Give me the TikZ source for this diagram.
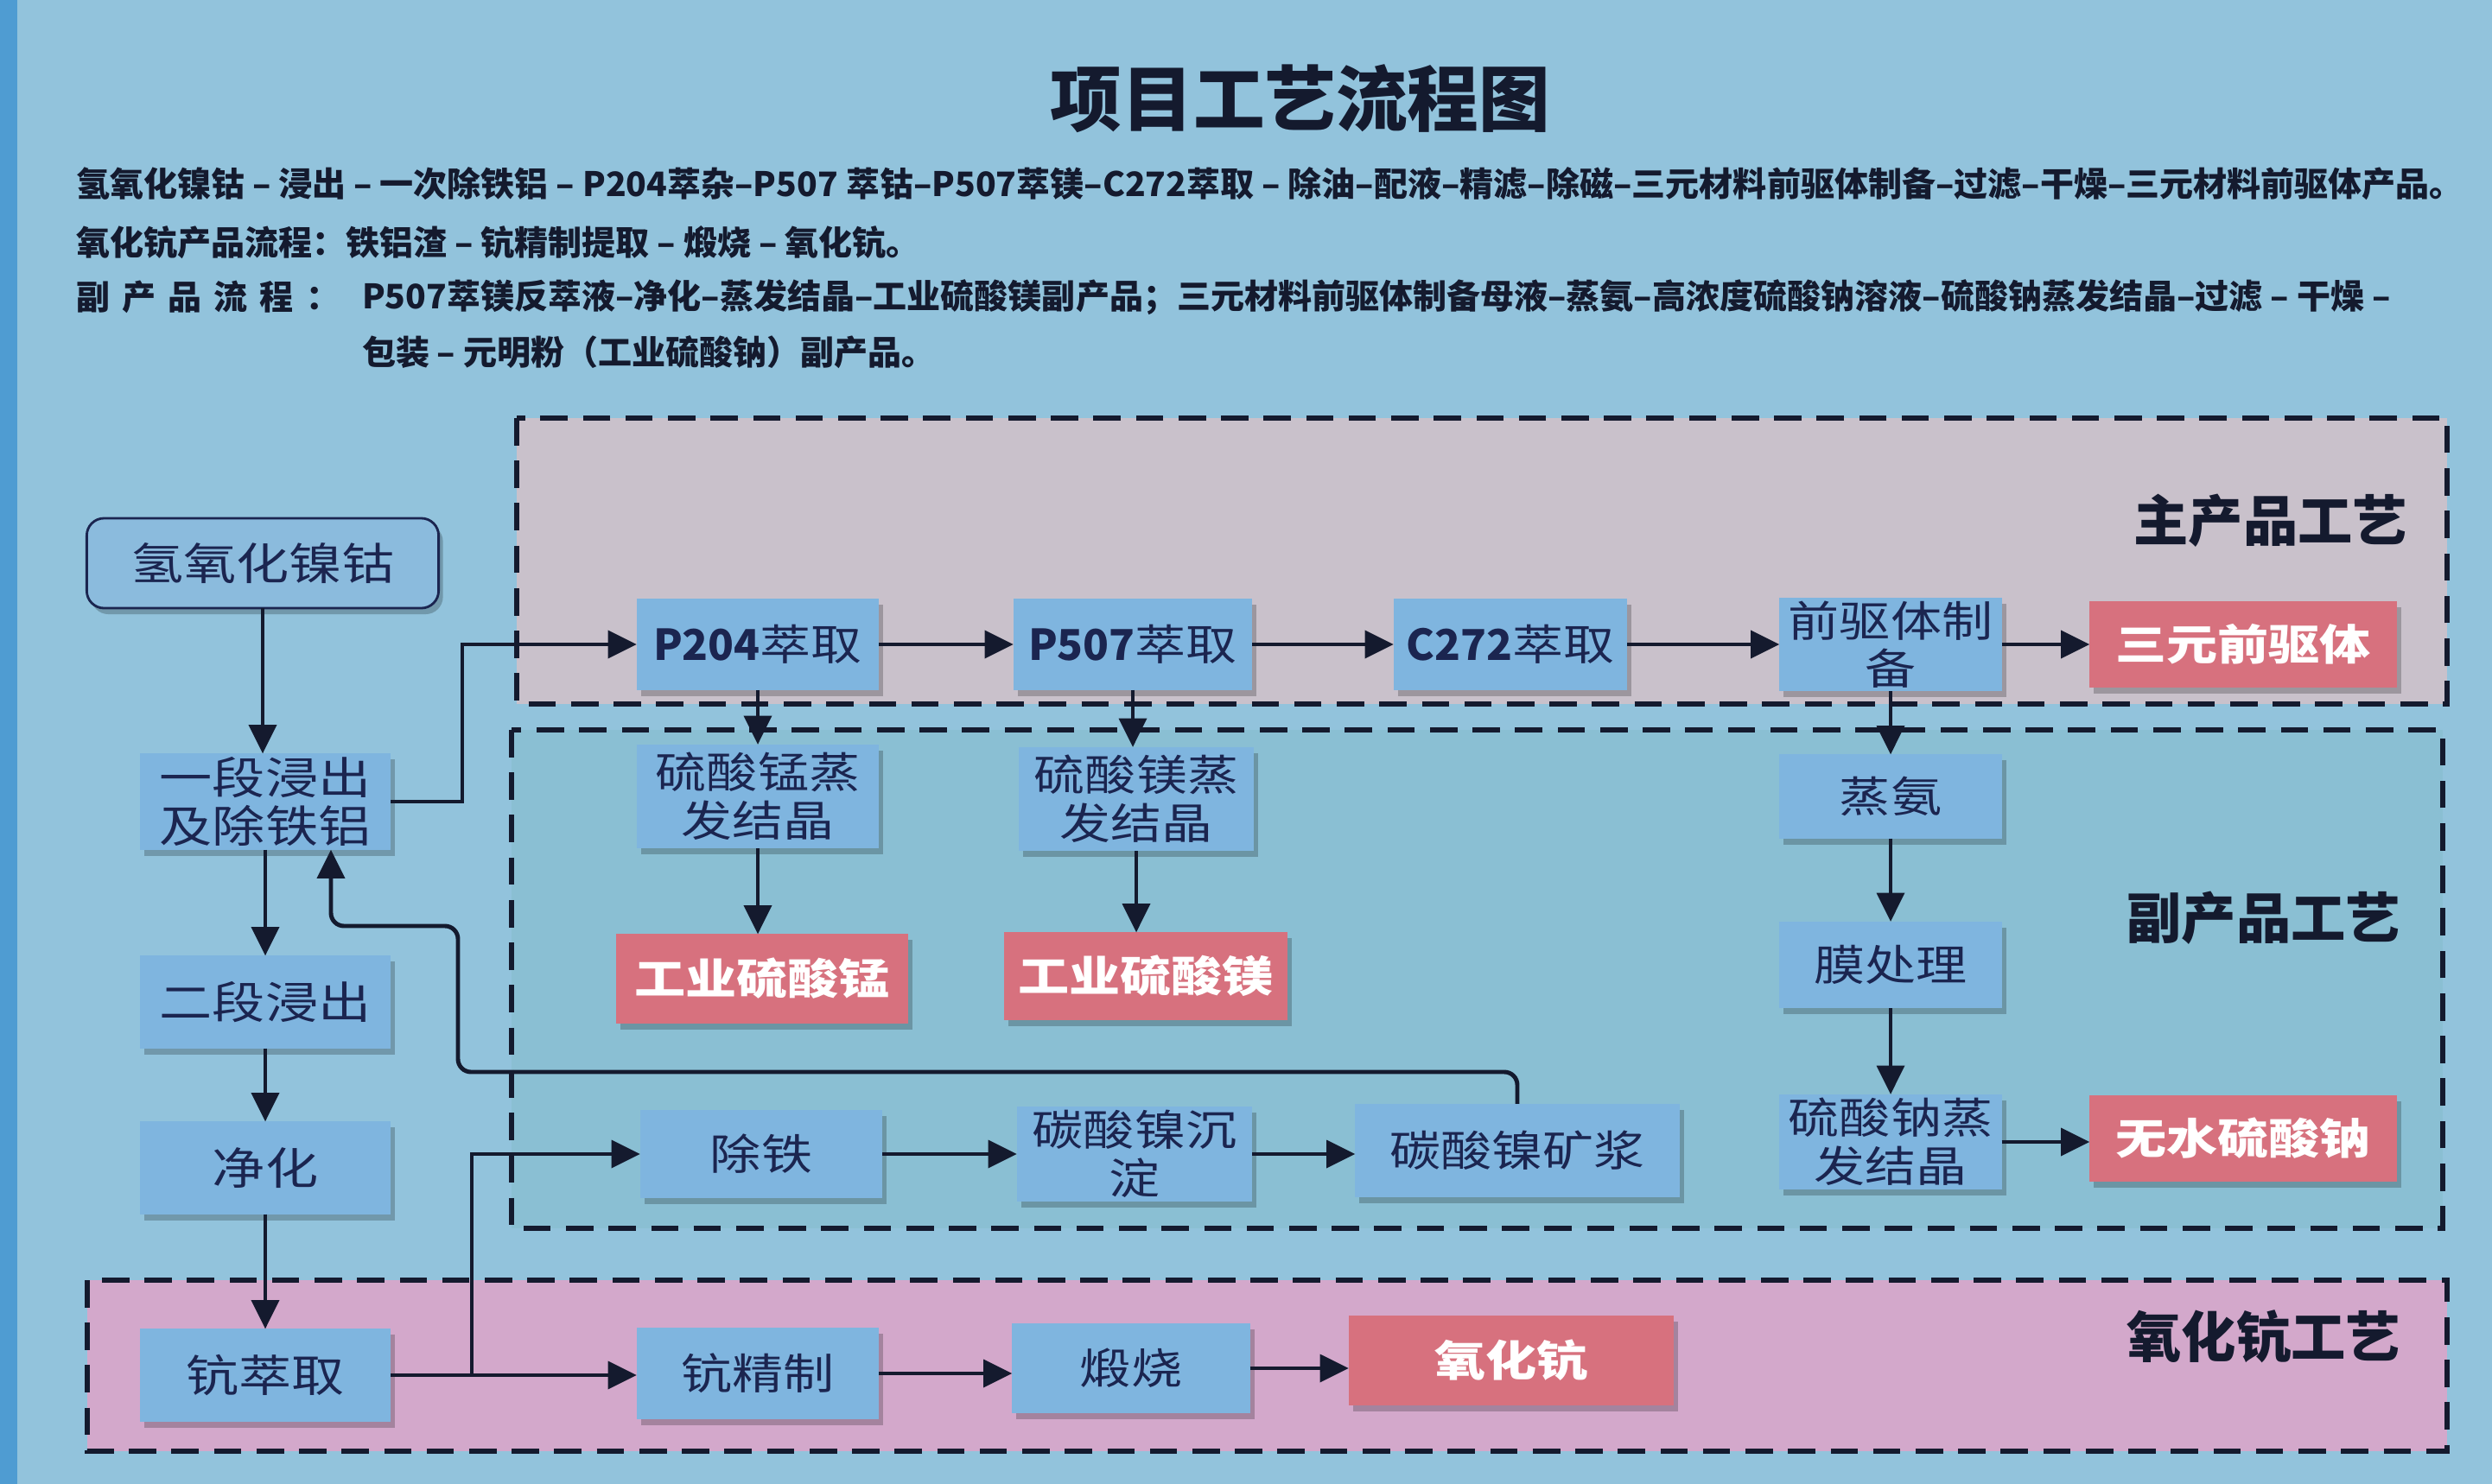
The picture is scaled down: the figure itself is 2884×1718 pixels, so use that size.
\documentclass[tikz,border=0pt]{standalone}
\usepackage{fontspec}
\setmainfont{Noto Sans CJK SC}
\newfontfamily\widecjk[FakeStretch=1.2]{Noto Sans CJK SC}
\newfontfamily\plaincjk{Noto Sans CJK SC}
\usetikzlibrary{arrows.meta,shadows,calc}
\definecolor{bgblue}{HTML}{92C3DC}
\definecolor{edgeblue}{HTML}{4F9CD2}
\definecolor{mainzone}{HTML}{C9C1CB}
\definecolor{subzone}{HTML}{8ABFD3}
\definecolor{sczone}{HTML}{D3A8CB}
\definecolor{boxblue}{HTML}{7FB5DF}
\definecolor{rawbox}{HTML}{8BBBDD}
\definecolor{boxred}{HTML}{D7717E}
\definecolor{navy}{HTML}{1B2550}
\definecolor{ink}{HTML}{141A2E}
\begin{document}
\begin{tikzpicture}[x=0.01cm,y=-0.01cm,
  every node/.style={inner sep=0pt, outer sep=0pt},
  softshadow/.style={drop shadow={shadow xshift=0.05cm, shadow yshift=-0.07cm, opacity=0.22, fill=black}},
  bluebox/.style={fill=boxblue, text=navy, minimum width=2.8cm, minimum height=1.05cm, align=center,
    font=\widecjk\fontsize{14}{15.8}\selectfont, softshadow},
  redbox/.style={fill=boxred, text=white, minimum width=3.5cm, minimum height=1.0cm, align=center,
    font=\widecjk\bfseries\fontsize{14}{15.8}\selectfont, softshadow},
  zone/.style={line width=1.6pt, draw=ink, dash pattern=on 9pt off 5pt},
  arr/.style={draw=ink, line width=1.4pt, -{Triangle[length=9.5pt,width=9pt]}},
  zonelabel/.style={font=\bfseries\fontsize{18}{20}\selectfont, text=ink, anchor=east},
  hdr/.style={anchor=west, font=\bfseries\fontsize{11.1}{13}\selectfont, text=ink}
]
% background
\fill[bgblue] (0,0) rectangle (2884,1718);
\fill[edgeblue] (0,0) rectangle (20,1718);
\useasboundingbox (0,0) rectangle (2884,1718);

% zones
\draw[zone, fill=mainzone] (598,484) rectangle (2832,815);
\draw[zone, fill=subzone] (592,845) rectangle (2827,1422);
\draw[zone, fill=sczone] (101,1482) rectangle (2832,1680);

\node[zonelabel] (lab1) at (2786,603) {主产品工艺};
\node[zonelabel] (lab2) at (2778,1063) {副产品工艺};
\node[zonelabel] (lab3) at (2778,1547) {氧化钪工艺};

% title and header text
\node[font=\bfseries\fontsize{23.5}{26}\selectfont, text=ink] (title) at (1505,114) {项目工艺流程图};
\node[hdr] (h1) at (88,213) {氢氧化镍钴 – 浸出 – 一次除铁铝 – P204萃杂–P507 萃钴–P507萃镁–C272萃取 – 除油–配液–精滤–除磁–三元材料前驱体制备–过滤–干燥–三元材料前驱体产品。};
\node[hdr] (h2) at (88,281) {氧化钪产品流程：铁铝渣 – 钪精制提取 – 煅烧 – 氧化钪。};
\node[hdr] (h3a) at (88,344) {\makebox[3.05cm][l]{副\hfill 产\hfill 品\hfill 流\hfill 程\hfill ：}};
\node[hdr] (h3b) at (419,344) {P507萃镁反萃液–净化–蒸发结晶–工业硫酸镁副产品；三元材料前驱体制备母液–蒸氨–高浓度硫酸钠溶液–硫酸钠蒸发结晶–过滤 – 干燥 –};
\node[hdr] (h4) at (419,408) {包装 – 元明粉（工业硫酸钠）副产品。};

% left column
\node[bluebox, fill=rawbox, draw=navy, line width=0.8pt, rounded corners=0.2cm, minimum width=4.07cm, minimum height=1.04cm, font=\widecjk\fontsize{14.5}{16}\selectfont] (hy) at (304,652) {氢氧化镍钴};
\node[bluebox, minimum width=2.9cm, minimum height=1.11cm, font=\widecjk\fontsize{14.5}{16}\selectfont] (s1) at (307,928) {一段浸出\\及除铁铝};
\node[bluebox, minimum width=2.9cm, minimum height=1.07cm, font=\widecjk\fontsize{14.5}{16}\selectfont] (s2) at (307,1160) {二段浸出};
\node[bluebox, minimum width=2.9cm, minimum height=1.07cm, font=\widecjk\fontsize{14.5}{16}\selectfont] (jh) at (307,1352) {净化};
\node[bluebox, minimum width=2.9cm, minimum height=1.07cm, font=\widecjk\fontsize{14.5}{16}\selectfont] (sc) at (307,1592) {钪萃取};

% row A
\node[bluebox] (p204) at (877,746) {{\plaincjk\bfseries P204}萃取};
\node[bluebox, minimum width=2.76cm] (p507) at (1311,746) {{\plaincjk\bfseries P507}萃取};
\node[bluebox, minimum width=2.7cm] (c272) at (1748,746) {{\plaincjk\bfseries C272}萃取};
\node[bluebox, minimum width=2.57cm, minimum height=1.08cm] (qq) at (2188,746) {前驱体制\\备};
\node[redbox, minimum width=3.55cm] (sy) at (2596,746) {三元前驱体};

% row B
\node[bluebox, minimum height=1.2cm] (mn) at (877,922) {硫酸锰蒸\\发结晶};
\node[bluebox, minimum width=2.72cm, minimum height=1.2cm] (mg) at (1315,925) {硫酸镁蒸\\发结晶};
\node[bluebox, minimum width=2.57cm, minimum height=0.97cm] (aq) at (2188,922) {蒸氨};

% row C
\node[redbox, minimum width=3.37cm, minimum height=1.03cm] (mnp) at (882,1133) {工业硫酸锰};
\node[redbox, minimum width=3.27cm, minimum height=1.01cm] (mgp) at (1326,1130) {工业硫酸镁};
\node[bluebox, minimum width=2.57cm, minimum height=1.0cm] (mo) at (2188,1117) {膜处理};

% row D
\node[bluebox, minimum height=1.01cm] (ct) at (881,1336) {除铁};
\node[bluebox, minimum width=2.72cm, minimum height=1.1cm] (tn) at (1313,1336) {碳酸镍沉\\淀};
\node[bluebox, minimum width=3.75cm, minimum height=1.08cm] (kj) at (1756,1332) {碳酸镍矿浆};
\node[bluebox, minimum width=2.57cm, minimum height=1.1cm] (ns) at (2188,1322) {硫酸钠蒸\\发结晶};
\node[redbox, minimum width=3.55cm] (ws) at (2596,1318) {无水硫酸钠};

% row E
\node[bluebox] (scj) at (877,1590) {钪精制};
\node[bluebox, minimum width=2.75cm, minimum height=1.03cm] (ds) at (1309,1584) {煅烧};
\node[redbox, minimum width=3.76cm, minimum height=1.03cm] (yh) at (1749,1575) {氧化钪};

% helper coordinates
\coordinate (brA) at (535,0);
\coordinate (brE) at (546,0);
\coordinate (fbA) at (0,1241);
\coordinate (fbB) at (530,1072);
\coordinate (fbC) at (383,1072);

% left column arrows
\draw[arr] (hy.south) -- (hy.south |- s1.north);
\draw[arr] (s1.south) -- (s1.south |- s2.north);
\draw[arr] (s2.south) -- (s2.south |- jh.north);
\draw[arr] (jh.south) -- (jh.south |- sc.north);

% main product line
\draw[arr] (s1.east) -- (s1.east -| brA) |- (p204.west);
\draw[arr] (p204.east) -- (p204.east -| p507.west);
\draw[arr] (p507.east) -- (p507.east -| c272.west);
\draw[arr] (c272.east) -- (c272.east -| qq.west);
\draw[arr] (qq.east) -- (qq.east -| sy.west);

% by-products
\draw[arr] (p204.south) -- (p204.south |- mn.north);
\draw[arr] (mn.south) -- (mn.south |- mnp.north);
\draw[arr] (p507.south) -- (p507.south |- mg.north);
\draw[arr] (mg.south) -- (mg.south |- mgp.north);
\draw[arr] (qq.south) -- (qq.south |- aq.north);
\draw[arr] (aq.south) -- (aq.south |- mo.north);
\draw[arr] (mo.south) -- (mo.south |- ns.north);
\draw[arr] (ns.east) -- (ns.east -| ws.west);

% nickel recovery
\draw[arr] (sc.east -| brE) |- (ct.west);
\draw[arr] (ct.east) -- (ct.east -| tn.west);
\draw[arr] (tn.east) -- (tn.east -| kj.west);
\draw[arr, rounded corners=0.15cm] (kj.north) -- (kj.north |- fbA) -- (fbA -| fbB) -- (fbB) -- (fbC) -- (fbC |- s1.south);

% scandium line
\draw[arr] (sc.east) -- (sc.east -| scj.west);
\draw[arr] (scj.east) -- (scj.east -| ds.west);
\draw[arr] (ds.east) -- (ds.east -| yh.west);
\end{tikzpicture}
\end{document}
